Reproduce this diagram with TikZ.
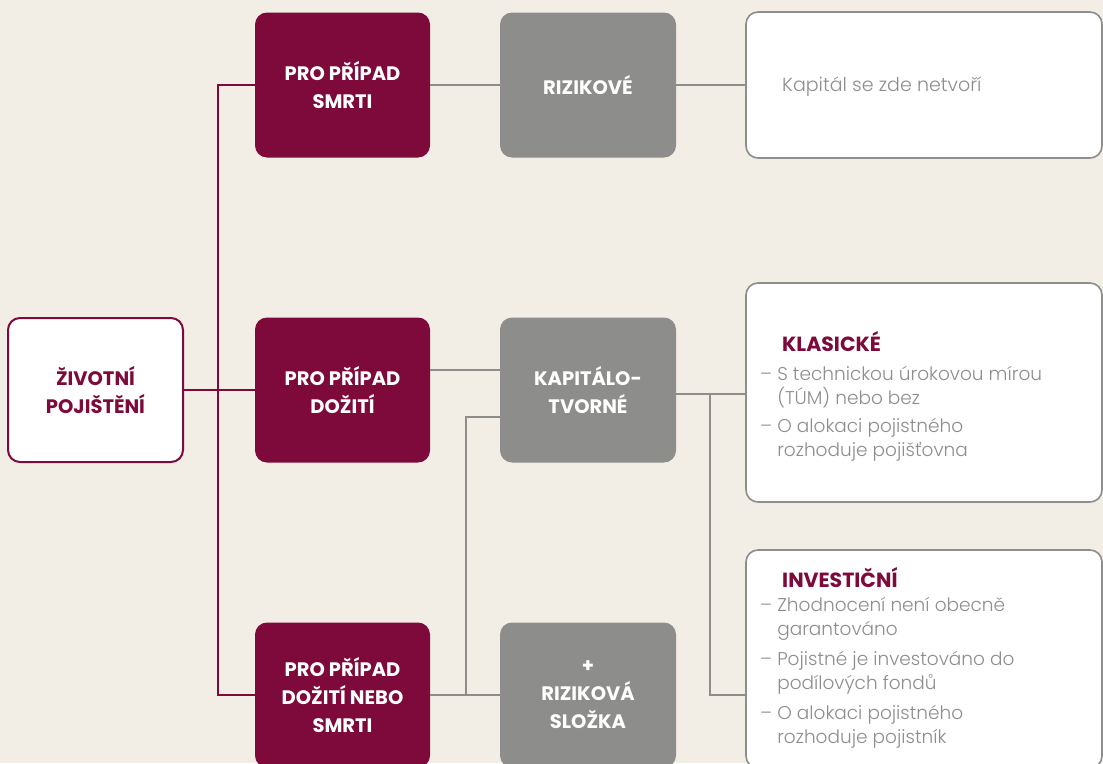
\documentclass[tikz,border=0pt]{standalone}
\usepackage{fontspec}
\setmainfont{Poppins}
\newfontfamily\boldf{Poppins Bold}
\newfontfamily\lightf{Poppins Light}
\definecolor{bg}{HTML}{F2EEE6}
\definecolor{maroon}{HTML}{7D0A3A}
\definecolor{greyb}{HTML}{8D8D8B}
\definecolor{txtgrey}{HTML}{8E8E8C}
\tikzset{
  basebox/.style={rectangle, rounded corners=12pt, inner sep=0pt, align=center,
    font=\boldf\fontsize{19.5}{28}\selectfont},
  mbox/.style={basebox, fill=maroon, text=white, minimum width=175pt, minimum height=145pt},
  gbox/.style={basebox, fill=greyb, text=white, minimum width=176pt, minimum height=145pt},
  rootbox/.style={basebox, fill=white, draw=maroon, line width=2pt, text=maroon,
    minimum width=175pt, minimum height=144pt},
  wbox/.style={rectangle, rounded corners=12pt, fill=white, draw=greyb, line width=1.6pt,
    minimum width=356pt, inner sep=0pt},
  mline/.style={draw=maroon, line width=2pt},
  gline/.style={draw=greyb, line width=2pt},
  body/.style={anchor=north west, inner sep=0pt, align=left, text=txtgrey,
    font=\lightf\fontsize{18.5}{24.5}\selectfont},
  ttl/.style={anchor=west, inner sep=0pt, text=maroon, font=\boldf\fontsize{20.5}{24}\selectfont}
}
\begin{document}
\begin{tikzpicture}[x=1pt,y=-1pt]
\useasboundingbox (0,0) rectangle (1103,763);
\clip (0,0) rectangle (1103,763);
\fill[bg] (0,0) rectangle (1103,763);

\coordinate (mv1) at (218,85);
\coordinate (mv2) at (218,695);
\coordinate (gv1) at (466,417);
\coordinate (gv2) at (466,695);
\coordinate (rv1) at (710,394);
\coordinate (rv2) at (710,695);

% boxes
\node[rootbox] (root) at (95.5,390) {ŽIVOTNÍ\\POJIŠTĚNÍ};
\node[mbox] (smrti) at (342.5,85) {PRO PŘÍPAD\\SMRTI};
\node[mbox] (doziti) at (342.5,390) {PRO PŘÍPAD\\DOŽITÍ};
\node[mbox] (oboje) at (342.5,695) {PRO PŘÍPAD\\DOŽITÍ NEBO\\SMRTI};
\node[gbox] (riz) at (588,85) {RIZIKOVÉ};
\node[gbox] (kap) at (588,390) {KAPITÁLO-\\TVORNÉ};
\node[gbox] (slozka) at (588,695) {+\\RIZIKOVÁ\\SLOŽKA};
\node[wbox, minimum height=146pt] (netvori) at (924,85) {};
\node[wbox, minimum height=219pt] (klas) at (924,392.5) {};
\node[wbox, minimum height=218pt] (inv) at (924,659) {};

% maroon connectors
\draw[mline] (root.east) -- (root.east -| mv1);
\draw[mline] (smrti.west) -- (mv1) -- (mv2) -- (oboje.west);
\draw[mline] (root.east -| mv1) -- (doziti.west);

% grey connectors
\draw[gline] (smrti.east) -- (riz.west);
\draw[gline] (riz.east) -- (netvori.west);
\draw[gline] (doziti.east |- 0,370) -- (kap.west |- 0,370);
\draw[gline] (oboje.east |- gv2) -- (slozka.west |- gv2);
\draw[gline] (gv2) -- (gv1) -- (kap.west |- gv1);
\draw[gline] (kap.east |- rv1) -- (klas.west |- rv1);
\draw[gline] (rv1) -- (rv2) -- (inv.west |- rv2);

% text in right boxes
\node[anchor=west, inner sep=0pt, text=txtgrey, font=\lightf\fontsize{19}{24}\selectfont]
  (t1) at (782,87) {Kapitál se zde netvoří};
\node[ttl] (t2) at (782,342) {KLASICKÉ};
\node[body] (t3) at (760,366) {– S technickou úrokovou mírou\\
\phantom{– }(TÚM) nebo bez\\[3pt]
– O alokaci pojistného\\
\phantom{– }rozhoduje pojišťovna};
\node[ttl] (t4) at (782,578) {INVESTIČNÍ};
\node[body] (t5) at (760,597) {– Zhodnocení není obecně\\
\phantom{– }garantováno\\[5pt]
– Pojistné je investováno do\\
\phantom{– }podílových fondů\\[5pt]
– O alokaci pojistného\\
\phantom{– }rozhoduje pojistník};
\end{tikzpicture}
\end{document}
